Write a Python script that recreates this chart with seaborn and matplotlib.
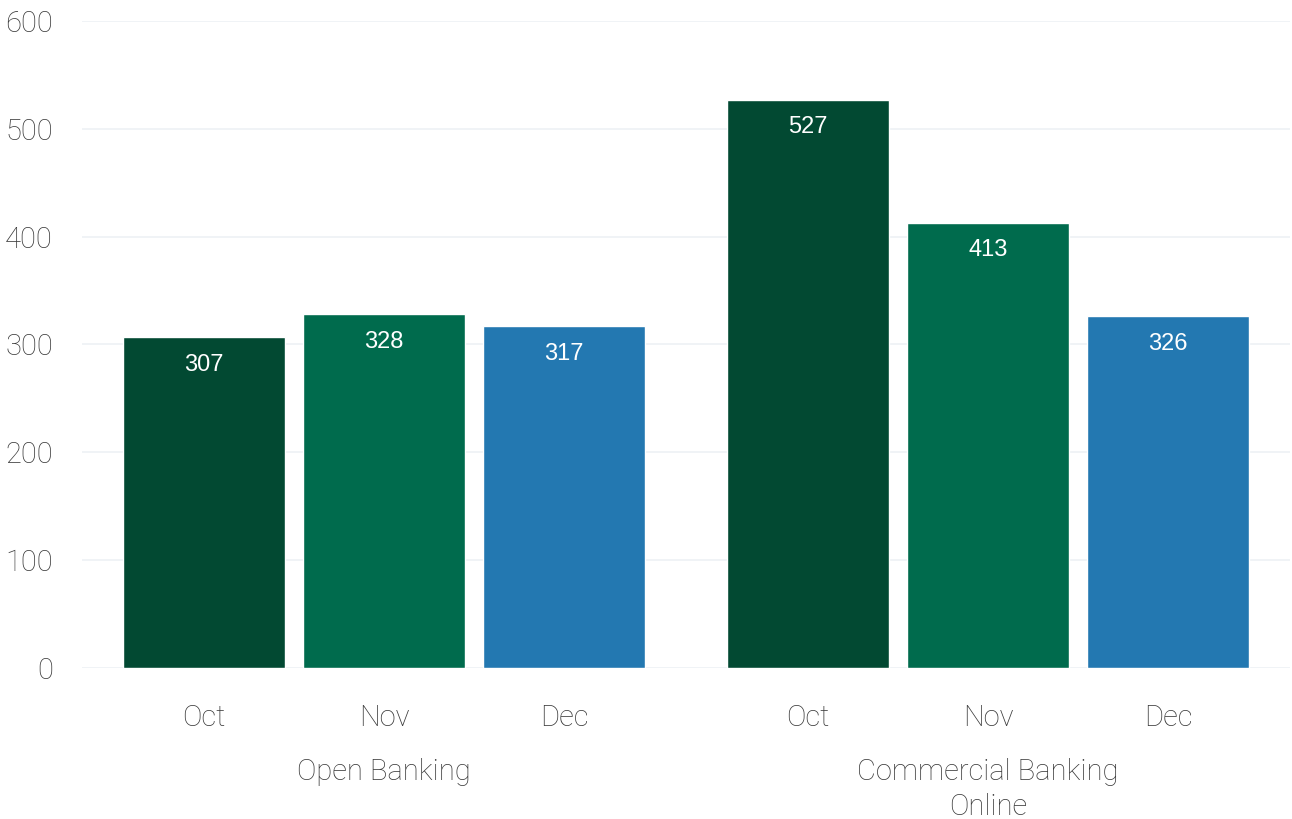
import matplotlib
matplotlib.use("Agg")
import matplotlib.pyplot as plt
import matplotlib.transforms as mtransforms
import seaborn as sns
import pandas as pd

groups = ["Open Banking", "Commercial Banking\nOnline"]
months = ["Oct", "Nov", "Dec"]
open_banking = [307, 328, 317]
commercial_online = [527, 413, 326]
colors = ["#024932", "#006B4D", "#2378B1"]

df = pd.DataFrame({
    "group": [groups[0]] * 3 + [groups[1]] * 3,
    "month": months * 2,
    "value": open_banking + commercial_online,
})

sns.set_theme(style="white")
plt.rcParams["font.family"] = ["Roboto", "DejaVu Sans"]
text_color = "#3a3a3a"

fig = plt.figure(figsize=(12.92, 8.19), dpi=100)
ax = fig.add_axes([0.0635, 0.1844, 0.935, 0.79])

sns.barplot(data=df, x="group", y="value", hue="month", order=groups,
            hue_order=months, palette=colors, width=0.894, gap=0.1,
            saturation=1, legend=False, ax=ax)

ax.set_xlim(-0.5, 1.5)
ax.set_ylim(0, 600)
ax.set_yticks(range(0, 601, 100))
ax.grid(axis="y", color="#eef1f5", linewidth=1.2)
ax.set_axisbelow(True)
sns.despine(ax=ax, left=True, bottom=True)
ax.set_xlabel("")
ax.set_ylabel("")
ax.tick_params(axis="y", length=0, pad=21, labelsize=21, labelcolor=text_color)
for lab in ax.get_yticklabels():
    lab.set_fontweight("light")

# value labels inside the bars
centers = []
for bar in ax.patches:
    if bar.get_height() > 0:
        centers.append(bar.get_x() + bar.get_width() / 2)
        ax.annotate(f"{bar.get_height():.0f}",
                    (bar.get_x() + bar.get_width() / 2, bar.get_height()),
                    xytext=(0, -20), textcoords="offset points",
                    ha="center", va="center", color="white", fontsize=17,
                    family=["Liberation Sans", "DejaVu Sans"])

# month tick labels under each bar, group labels below
centers = sorted(centers)
ax.set_xticks(centers)
ax.set_xticklabels(months * 2)
ax.tick_params(axis="x", length=0, pad=26, labelsize=21, labelcolor=text_color)
for lab in ax.get_xticklabels():
    lab.set_fontweight("light")

trans = mtransforms.blended_transform_factory(ax.transData, ax.transAxes)
for i, g in enumerate(groups):
    ax.text(i, -0.139, g, transform=trans, ha="center", va="top",
            fontsize=21, color=text_color, fontweight="light", linespacing=1.3)

fig.savefig("out.png", dpi=100)
